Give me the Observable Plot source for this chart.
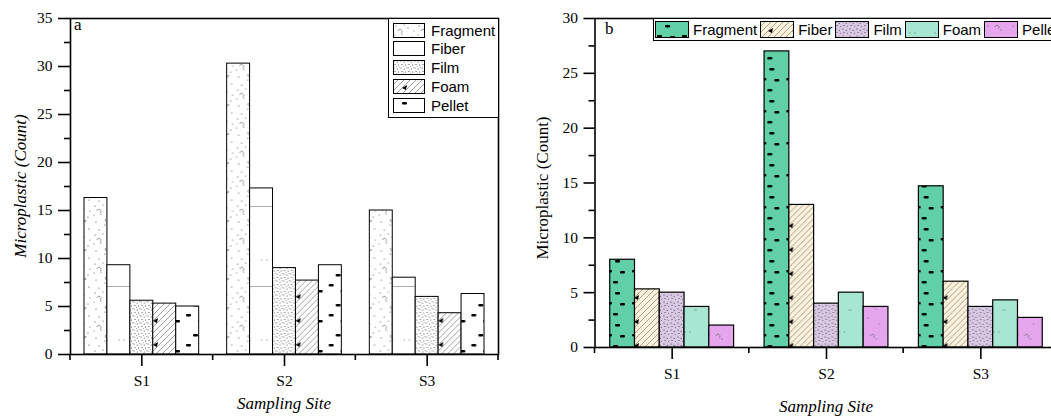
<!DOCTYPE html>
<html><head><meta charset="utf-8">
<script src="https://cdn.jsdelivr.net/npm/d3@7"></script>
<script src="https://cdn.jsdelivr.net/npm/@observablehq/plot@0.6"></script>
<style>
html,body{margin:0;padding:0;background:#fff}
body{width:1051px;height:417px;overflow:hidden;position:relative;font-family:"Liberation Serif",serif;color:#000}
.panel{position:absolute;top:0}
.panel svg{max-width:none !important}
.lbl{position:absolute;white-space:nowrap;transform:translate(-50%,-50%);font-size:17px}
.rot{transform:translate(-50%,-50%) rotate(-90deg)}
.it{font-style:italic}
.legA{position:absolute;left:388px;top:18px;width:109px;height:98px;border:1px solid #000;background:#fff;font-family:"Liberation Sans",Arial,sans-serif;font-size:15px}
.legA .row{position:absolute;left:4px;display:flex;align-items:center;height:16px}
.legA svg{margin-right:6px}
.legB{position:absolute;left:653px;top:18px;height:21px;width:420px;border:1px solid #000;background:#fff;font-family:"Liberation Sans",Arial,sans-serif;font-size:15px;display:flex;align-items:center;padding-left:1px}
.legB .item{display:flex;align-items:center;margin-right:3px}
.legB svg{margin-right:4px}
.tag{position:absolute;font-size:17px}
</style></head><body>
<svg width="0" height="0" style="position:absolute;left:0;top:0">
<defs>
<pattern id="fragA" patternUnits="userSpaceOnUse" width="23" height="29">
<rect width="23" height="29" fill="#fff"/>
<g fill="#444"><circle cx="3" cy="3" r="0.6"/><circle cx="15" cy="5" r="0.6"/><circle cx="9" cy="11" r="0.6"/><circle cx="19" cy="14" r="0.6"/><circle cx="4" cy="19" r="0.6"/><circle cx="13" cy="22" r="0.6"/><circle cx="20" cy="26" r="0.6"/><circle cx="7" cy="27" r="0.6"/><circle cx="11" cy="2" r="0.5"/><circle cx="21" cy="8" r="0.5"/><circle cx="2" cy="12" r="0.5"/><circle cx="16" cy="18" r="0.5"/></g>
<path d="M5,8 a2,2 0 1,1 3,2 M14,16 a2,1.5 0 1,0 3,1" stroke="#555" stroke-width="0.6" fill="none"/>
</pattern>
<pattern id="fiberA" patternUnits="userSpaceOnUse" width="23" height="80">
<rect width="23" height="80" fill="#fff"/>
<path d="M0,46.5 H23" stroke="#999" stroke-width="0.8"/>
<path d="M3,20 h2 m3,0 h2 m4,0 h2" stroke="#888" stroke-width="0.6"/>
</pattern>
<pattern id="filmA" patternUnits="userSpaceOnUse" width="7" height="7">
<rect width="7" height="7" fill="#fff"/>
<g fill="#222"><circle cx="1" cy="1" r="0.5"/><circle cx="4.2" cy="2" r="0.5"/><circle cx="2" cy="4.4" r="0.5"/><circle cx="5.6" cy="5.1" r="0.5"/><circle cx="6.3" cy="0.6" r="0.4"/><circle cx="3.5" cy="6.4" r="0.4"/></g>
</pattern>
<pattern id="foamA" patternUnits="userSpaceOnUse" width="24" height="24">
<rect width="24" height="24" fill="#fff"/>
<path d="M0,6 L6,0 M0,12 L12,0 M0,18 L18,0 M0,24 L24,0 M6,24 L24,6 M12,24 L24,12 M18,24 L24,18" stroke="#777" stroke-width="0.7"/>
<path d="M9,9 l5,-3 l-1,5 z" fill="#000"/>
</pattern>
<pattern id="pelletA" patternUnits="userSpaceOnUse" width="23" height="30">
<rect width="23" height="30" fill="#fff"/>
<g fill="#000"><rect x="9" y="4" width="5" height="2.4" rx="1"/><rect x="2" y="14" width="5" height="2.4" rx="1"/><rect x="14" y="20" width="5" height="2.4" rx="1"/></g>
</pattern>
<pattern id="fragB" patternUnits="userSpaceOnUse" width="25" height="32">
<rect width="25" height="32" fill="#62d0a7"/>
<g fill="#000"><rect x="10" y="4" width="5" height="2.4" rx="1"/><rect x="2" y="14" width="5" height="2.4" rx="1"/><rect x="15" y="15" width="5" height="2.4" rx="1"/><rect x="8" y="25" width="5" height="2.4" rx="1"/></g>
</pattern>
<pattern id="fiberB" patternUnits="userSpaceOnUse" width="24" height="24">
<rect width="24" height="24" fill="#fcf1da"/>
<path d="M0,6 L6,0 M0,12 L12,0 M0,18 L18,0 M0,24 L24,0 M6,24 L24,6 M12,24 L24,12 M18,24 L24,18" stroke="#8a8070" stroke-width="0.7"/>
<path d="M8,10 l5,-3 l-1,5 z" fill="#000"/>
</pattern>
<pattern id="filmB" patternUnits="userSpaceOnUse" width="7" height="7">
<rect width="7" height="7" fill="#d8c8e3"/>
<g fill="#222"><circle cx="1" cy="1" r="0.5"/><circle cx="4.2" cy="2.2" r="0.5"/><circle cx="2" cy="4.6" r="0.5"/><circle cx="5.6" cy="5.3" r="0.45"/></g>
</pattern>
<pattern id="foamB" patternUnits="userSpaceOnUse" width="25" height="40">
<rect width="25" height="40" fill="#a7e6d2"/>
<path d="M4,12 h2 m3,0 h2 M14,30 h3" stroke="#6a8a80" stroke-width="0.7"/>
</pattern>
<pattern id="pelletB" patternUnits="userSpaceOnUse" width="25" height="30">
<rect width="25" height="30" fill="#e5a6ee"/>
<g fill="#555"><circle cx="4" cy="5" r="0.6"/><circle cx="17" cy="9" r="0.6"/><circle cx="9" cy="18" r="0.6"/><circle cx="20" cy="24" r="0.6"/></g>
<path d="M11,6 a2,2 0 1,1 3,2" stroke="#555" stroke-width="0.6" fill="none"/>
</pattern>
</defs>
</svg>

<div id="pa" class="panel" style="left:0"></div>
<div id="pb" class="panel" style="left:530px"></div>

<script>
// ---- data ----
const sites = ["S1", "S2", "S3"];
const types = ["Fragment", "Fiber", "Film", "Foam", "Pellet"];
// panel a
const fragmentA = [16.3, 30.3, 15.0];
const fiberA    = [9.3, 17.3, 8.0];
const filmA     = [5.6, 9.0, 6.0];
const foamA     = [5.3, 7.7, 4.3];
const pelletA   = [5.0, 9.3, 6.3];
// panel b
const fragmentB = [8.0, 27.0, 14.7];
const fiberB    = [5.3, 13.0, 6.0];
const filmB     = [5.0, 4.0, 3.7];
const foamB     = [3.7, 5.0, 4.3];
const pelletB   = [2.0, 3.7, 2.7];
// y ticks
const yTicksA = [0, 5, 10, 15, 20, 25, 30, 35];
const yMinorA = [2.5, 7.5, 12.5, 17.5, 22.5, 27.5, 32.5];
const yTicksB = [0, 5, 10, 15, 20, 25, 30];
const yMinorB = [2.5, 7.5, 12.5, 17.5, 22.5, 27.5];

const fillsA = ["url(#fragA)", "url(#fiberA)", "url(#filmA)", "url(#foamA)", "url(#pelletA)"];
const fillsB = ["url(#fragB)", "url(#fiberB)", "url(#filmB)", "url(#foamB)", "url(#pelletB)"];

function table(series) {
  return series.flatMap((vals, i) => sites.map((s, j) => ({site: s, type: types[i], value: vals[j]})));
}

const FONT = "Liberation Serif";

function panel(el, cfg) {
  const data = table(cfg.series);
  const chart = Plot.plot({
    width: cfg.width, height: 417,
    marginLeft: cfg.ml, marginRight: cfg.mr, marginTop: cfg.mt, marginBottom: cfg.mb,
    style: "font-family: 'Liberation Serif'; font-size: 15px; color: #000; background: transparent; overflow: visible; max-width: none;",
    fx: {domain: sites, padding: 0, label: null, round: false},
    x: {domain: types, paddingInner: 0, paddingOuter: cfg.po, axis: null, round: false},
    y: {domain: cfg.ydomain, axis: null},
    color: {domain: types, range: cfg.fills},
    marks: [
      Plot.barY(data, {fx: "site", x: "type", y: "value", fill: "type", stroke: "#000", strokeWidth: cfg.bsw, inset: 0}),
      Plot.axisY({ticks: cfg.yt, tickSize: cfg.ts, tickPadding: 6, strokeWidth: 1.6, label: null, fontSize: 15.5, fontFamily: FONT, fill: "#000"}),
      Plot.axisY({ticks: cfg.ym, tickSize: 6, text: null, strokeWidth: 1.6, label: null}),
      Plot.axisFx({anchor: "bottom", tickSize: 12, tickPadding: 8, strokeWidth: 1.6, label: null, fontSize: 15.5, fontFamily: FONT, fill: "#000"}),
      Plot.frame({facet: "super", stroke: "#000", strokeWidth: 1.6})
    ]
  });
  const fx = chart.scale("fx");
  const y0 = chart.scale("y").apply(0);
  const bounds = sites.map(s => fx.apply(s)).concat([fx.apply(sites[sites.length - 1]) + fx.bandwidth]);
  d3.select(chart).append("g").attr("stroke", "#000").attr("stroke-width", 1.6)
    .selectAll("line").data(bounds).join("line")
    .attr("x1", d => d).attr("x2", d => d).attr("y1", y0).attr("y2", y0 + 6);
  el.appendChild(chart);
}

panel(document.getElementById("pa"), {
  width: 530, ml: 70, mr: 32, mt: 18, mb: 63, po: 0.61, bsw: 1,
  ydomain: [0, 35], yt: yTicksA, ym: yMinorA, ts: 12,
  series: [fragmentA, fiberA, filmA, foamA, pelletA], fills: fillsA
});
panel(document.getElementById("pb"), {
  width: 540, ml: 64.5, mr: 12.5, mt: 18, mb: 70, po: 0.615, bsw: 1.2,
  ydomain: [0, 30], yt: yTicksB, ym: yMinorB, ts: 11,
  series: [fragmentB, fiberB, filmB, foamB, pelletB], fills: fillsB
});

// ---- labels ----
function label(text, x, y, cls) {
  const d = document.createElement("div");
  d.className = "lbl " + (cls || "");
  d.textContent = text;
  d.style.left = x + "px"; d.style.top = y + "px";
  document.body.appendChild(d);
}
label("Microplastic (Count)", 21, 186, "rot it");
label("Sampling Site", 284, 404, "it");
label("Microplastic (Count)", 543, 188, "rot");
label("Sampling Site", 826, 407, "it");
function tag(t, x, y) {
  const d = document.createElement("div");
  d.className = "tag"; d.textContent = t;
  d.style.left = x + "px"; d.style.top = y + "px";
  document.body.appendChild(d);
}
tag("a", 74, 15);
tag("b", 605, 19);

// ---- legends ----
function swatch(fill, w, h) {
  const ns = "http://www.w3.org/2000/svg";
  const s = document.createElementNS(ns, "svg");
  s.setAttribute("width", w); s.setAttribute("height", h);
  const r = document.createElementNS(ns, "rect");
  r.setAttribute("x", 0.5); r.setAttribute("y", 0.5);
  r.setAttribute("width", w - 1); r.setAttribute("height", h - 1);
  r.setAttribute("fill", fill); r.setAttribute("stroke", "#000"); r.setAttribute("stroke-width", 1);
  s.appendChild(r);
  return s;
}
const legA = document.createElement("div");
legA.className = "legA";
types.forEach((t, i) => {
  const row = document.createElement("div");
  row.className = "row";
  row.style.top = (3 + i * 18.8) + "px";
  row.appendChild(swatch(fillsA[i], 32, 15));
  const sp = document.createElement("span"); sp.textContent = t;
  row.appendChild(sp);
  legA.appendChild(row);
});
document.body.appendChild(legA);

const legB = document.createElement("div");
legB.className = "legB";
types.forEach((t, i) => {
  const it = document.createElement("div");
  it.className = "item";
  it.appendChild(swatch(fillsB[i], 34, 17));
  const sp = document.createElement("span"); sp.textContent = t;
  it.appendChild(sp);
  legB.appendChild(it);
});
document.body.appendChild(legB);
</script>
</body></html>
